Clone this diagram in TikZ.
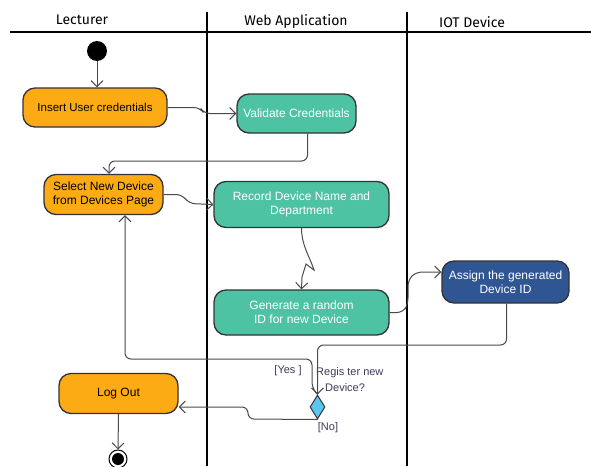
\documentclass[tikz,border=0pt]{standalone}
\usepackage{fontspec}
\setmainfont{Liberation Sans}
\newfontfamily\headfont{Fira Sans}
\usetikzlibrary{arrows.meta,shapes.geometric}

\definecolor{actorange}{HTML}{FCAB14}
\definecolor{actteal}{HTML}{4DC3A4}
\definecolor{actblue}{HTML}{2F5593}
\definecolor{decblue}{HTML}{5CC7EE}
\definecolor{edgegray}{HTML}{4A4A4A}
\definecolor{outline}{HTML}{333333}
\definecolor{guardtext}{HTML}{3A3A58}

\tikzset{
  x=1pt, y=-1pt,
  action/.style={draw=outline, line width=1.3pt, rounded corners=12pt,
    align=center, inner sep=2pt, font=\fontsize{12}{14}\selectfont},
  orangeact/.style={action, fill=actorange, text=black},
  tealact/.style={action, fill=actteal, text=white},
  blueact/.style={action, fill=actblue, text=white},
  flow/.style={draw=edgegray, line width=1pt, rounded corners=6pt,
    -{Straight Barb[length=6pt,width=12pt,line width=1pt]}},
  lane/.style={line width=2.4pt, black},
  lanetitle/.style={font=\headfont\fontsize{14}{16}\selectfont, inner sep=0pt},
  guard/.style={text=guardtext, font=\fontsize{11}{16}\selectfont, inner sep=0pt, align=left},
}

\begin{document}
\begin{tikzpicture}
\useasboundingbox (0,0) rectangle (591,466);

% swimlane frame
\draw[line width=1.6pt] (10,32) -- (591,32);
\draw[lane] (207,12) -- (207,466);
\draw[lane] (407,12) -- (407,466);
\node[lanetitle] (t1) at (82,20) {Lecturer};
\node[lanetitle] (t2) at (296,22) {Web Application};
\node[lanetitle] (t3) at (472,22) {IOT Device};

% start and end
\node[circle, fill=black, minimum size=20pt, inner sep=0pt] (start) at (97,51) {};
\node[circle, draw=black, line width=1pt, minimum size=18pt, inner sep=0pt] (finish) at (118,459) {};
\node[circle, fill=black, minimum size=12pt, inner sep=0pt] (finishdot) at (118,459) {};

% actions
\node[orangeact, minimum width=144pt, minimum height=39pt, font=\fontsize{11.5}{14}\selectfont] (insert) at (95,107.5) {Insert User credentials};
\node[tealact, minimum width=119pt, minimum height=39pt] (validate) at (296.5,113.5) {Validate Credentials};
\node[orangeact, minimum width=119pt, minimum height=40pt] (select) at (103.5,194.5) {Select New Device\\from Devices Page};
\node[tealact, minimum width=175pt, minimum height=46pt] (record) at (301.5,204.5) {Record Device Name and\\Department};
\node[tealact, minimum width=175pt, minimum height=45pt] (generate) at (301.5,312.5) {Generate a random\\ID for new Device};
\node[blueact, minimum width=127pt, minimum height=42pt] (assign) at (505.5,282) {Assign the generated\\Device ID};
\node[orangeact, minimum width=119pt, minimum height=40pt] (logout) at (118.5,393.5) {Log Out};

% decision
\node[diamond, draw=outline, line width=1pt, fill=decblue, minimum width=15pt, minimum height=24pt, inner sep=0pt] (dec) at (317.5,407) {};
\node[guard, anchor=west] (question) at (316,380) {Regis ter new\\\hspace{9pt}Device?};
\node[guard] (yes) at (288,371) {[Yes ]};
\node[guard] (no) at (328,428) {[No]};

% control flow
\draw[flow] (start) -- (start |- insert.north);
\draw[flow] (insert.east) -- (200,107.5) -- (204,113.5) -- (validate.west);
\draw[flow] ([xshift=11]validate.south) -- (307.5,161) -- (109,161) -- ([xshift=5.5]select.north);
\draw[flow] (select.east) -- (182,194.5) -- (189,203.5) -- (record.west);
\draw[flow, rounded corners=0pt] (record.south) .. controls (301.5,245) and (309,255) .. (314,270) -- (306,264) -- (302,277) -- (generate.north);
\draw[flow] (generate.east) -- (403,312.5) -- (408,304) -- (408,280) -- (416,272) -- ([yshift=10]assign.west);
\draw[flow] ([xshift=1]assign.south) -- (506.5,345) -- (317.5,345) -- (dec.north);
\draw[flow] (dec.north) -- (312,388) -- (312,359) -- (125,359) -- ([xshift=21.5]select.south);
\draw[flow] (dec.south) -- (248,419) -- (248,407) -- ([yshift=-13.5]logout.east);
\draw[flow, rounded corners=0pt] (logout.south) -- (finish.north);
\end{tikzpicture}
\end{document}
